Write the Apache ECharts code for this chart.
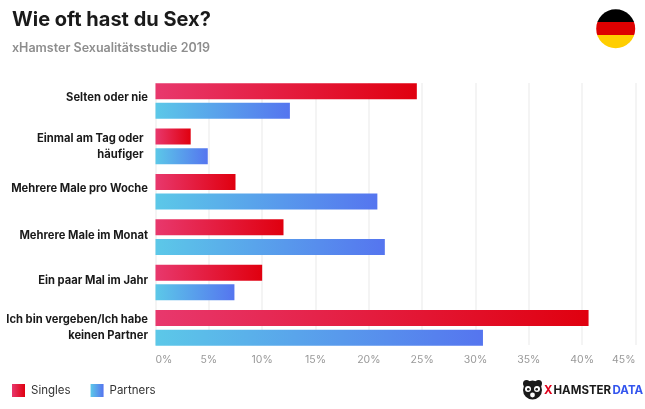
<!DOCTYPE html>
<html>
<head>
<meta charset="utf-8">
<style>html,body{margin:0;background:#fff}#main{width:645px;height:409px}</style>
<script src="https://cdn.jsdelivr.net/npm/echarts@6/dist/echarts.min.js"></script>
</head>
<body>
<div id="main"></div>
<script>
var categories = ['Selten oder nie', 'Einmal am Tag oder\nhäufiger', 'Mehrere Male pro Woche', 'Mehrere Male im Monat', 'Ein paar Mal im Jahr', 'Ich bin vergeben/Ich habe\nkeinen Partner'];
var singles = [24.5, 3.3, 7.5, 12, 10, 40.6];
var partners = [12.6, 4.9, 20.8, 21.5, 7.4, 30.7];
var ticks = [0, 5, 10, 15, 20, 25, 30, 35, 40, 45];

var FONT = 'Inter, "Noto Sans", sans-serif';

// the reference labels do not sit quite on the band centres
var labelStyles = ['upA', 'inset', 'upB', 'upC', 'upC', 'plain'];

function grad(c1, c2) {
    return new echarts.graphic.LinearGradient(0, 0, 1, 0, [
        { offset: 0, color: c1 },
        { offset: 1, color: c2 }
    ]);
}

function labelRich(padding) {
    return { fontFamily: FONT, fontSize: 11.2, fontWeight: 700, color: '#1a1a1a', lineHeight: 16, padding: padding };
}

function dot(cx, cy, r, fill) {
    return { type: 'circle', shape: { cx: cx, cy: cy, r: r }, style: { fill: fill } };
}

function logoText(x, text, fill) {
    return { type: 'text', x: x, y: 384.5, style: { text: text, font: '700 11.5px ' + FONT, fill: fill } };
}

var myChart = echarts.init(document.getElementById('main'), null, { renderer: 'canvas' });

myChart.setOption({
    animation: false,
    backgroundColor: '#fff',
    title: [
        { text: 'Wie oft hast du Sex?', left: 12, top: 10, padding: 0, textStyle: { fontFamily: FONT, fontSize: 20, fontWeight: 700, color: '#1a1a1a' } },
        { text: 'xHamster Sexualitätsstudie 2019', left: 12, top: 41.5, padding: 0, textStyle: { fontFamily: FONT, fontSize: 12.5, fontWeight: 600, color: '#8e8e8e' } }
    ],
    legend: {
        left: 12, top: 384, padding: 0, icon: 'rect', itemWidth: 13, itemHeight: 13, itemGap: 20,
        itemStyle: { borderWidth: 0 },
        textStyle: { fontFamily: FONT, fontSize: 11.5, color: '#333', padding: [0, 0, 0, 1] },
        data: ['Singles', 'Partners']
    },
    grid: [
        { left: 155.5, right: 9.5, top: 78.3, bottom: 58.4, outerBoundsMode: 'none' },
        { left: 155.5, right: 9.5, top: 83, bottom: 64, outerBoundsMode: 'none' }
    ],
    xAxis: [
        { type: 'value', gridIndex: 0, min: ticks[0], max: ticks[ticks.length - 1], interval: 5, show: false, splitLine: { show: false } },
        {
            type: 'value', gridIndex: 1, min: ticks[0], max: ticks[ticks.length - 1], interval: 5,
            axisLine: { show: false }, axisTick: { show: false },
            splitLine: { lineStyle: { color: '#f0f0f0', width: 1.5 } },
            axisLabel: {
                formatter: '{value}%', fontFamily: FONT, fontSize: 10.5, color: '#999', margin: 9,
                showMinLabel: true, showMaxLabel: true, alignMinLabel: 'left', alignMaxLabel: 'right'
            }
        }
    ],
    yAxis: [
        {
            type: 'category', gridIndex: 0, inverse: true, data: categories,
            axisLine: { show: false }, axisTick: { show: false },
            axisLabel: {
                margin: 7.5, align: 'right', interval: 0,
                formatter: function (value, index) {
                    return value.split('\n').map(function (line) {
                        return '{' + labelStyles[index] + '|' + line + '}';
                    }).join('\n');
                },
                rich: {
                    upA: labelRich([0, 0, 7, 0]),
                    upB: labelRich([0, 0, 6, 0]),
                    upC: labelRich([0, 0, 4, 0]),
                    plain: labelRich([0, 0, 0, 0]),
                    inset: labelRich([0, 4.5, 0, 0])
                }
            }
        },
        { type: 'value', gridIndex: 1, min: 0, max: 1, show: false, splitLine: { show: false } }
    ],
    series: [
        { name: 'Singles', type: 'bar', xAxisIndex: 0, yAxisIndex: 0, data: singles, barWidth: 16, barGap: '23%', itemStyle: { color: grad('#e8386d', '#e0000f') } },
        { name: 'Partners', type: 'bar', xAxisIndex: 0, yAxisIndex: 0, data: partners, barWidth: 16, barGap: '23%', itemStyle: { color: grad('#5cc8e8', '#5575ef') } }
    ],
    graphic: [
        { type: 'circle', shape: { cx: 615.7, cy: 28.7, r: 19.5 }, style: {
            fill: new echarts.graphic.LinearGradient(0, 0, 0, 1, [
                { offset: 0, color: '#000' }, { offset: 0.333, color: '#000' },
                { offset: 0.333, color: '#dd0000' }, { offset: 0.667, color: '#dd0000' },
                { offset: 0.667, color: '#ffce00' }, { offset: 1, color: '#ffce00' }
            ]) } },
        // small hamster head for the logo
        dot(526.5, 383.5, 3.5, '#1a1a1a'),
        dot(538.5, 383.5, 3.5, '#1a1a1a'),
        dot(532.5, 390, 9.5, '#1a1a1a'),
        dot(528, 389, 3, '#fff'),
        dot(537, 389, 3, '#fff'),
        dot(528.3, 389.3, 1.3, '#1a1a1a'),
        dot(536.7, 389.3, 1.3, '#1a1a1a'),
        dot(532.5, 395, 2.4, '#fff'),
        logoText(544, 'X', '#e0001b'),
        logoText(553.5, 'HAMSTER', '#1a1a1a'),
        logoText(612.5, 'DATA', '#3355ee')
    ]
});
</script>
</body>
</html>
